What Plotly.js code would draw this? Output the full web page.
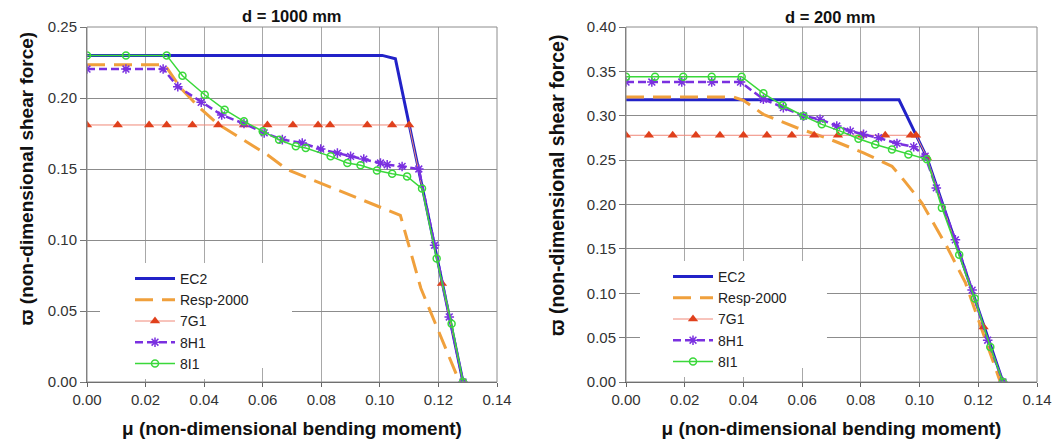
<!DOCTYPE html>
<html><head><meta charset="utf-8">
<script src="https://cdn.plot.ly/plotly-3.0.1.min.js"></script>
<style>html,body{margin:0;padding:0;background:#fff}#chart{width:1057px;height:446px}</style>
</head><body><div id="chart"></div>
<script>
// ---- tick labels ----
const xTickVals = [0, 0.02, 0.04, 0.06, 0.08, 0.10, 0.12, 0.14];
const xTickText = ["0.00","0.02","0.04","0.06","0.08","0.10","0.12","0.14"];
const yTickValsL = [0, 0.05, 0.10, 0.15, 0.20, 0.25];
const yTickTextL = ["0.00","0.05","0.10","0.15","0.20","0.25"];
const yTickValsR = [0, 0.05, 0.10, 0.15, 0.20, 0.25, 0.30, 0.35, 0.40];
const yTickTextR = ["0.00","0.05","0.10","0.15","0.20","0.25","0.30","0.35","0.40"];
const seriesNames = ["EC2", "Resp-2000", "7G1", "8H1", "8I1"];

// ---- d = 1000 mm (left panel) ----
const L_EC2_x  = [0, 0.1008, 0.1053, 0.1284];
const L_EC2_y  = [0.23, 0.23, 0.2277, 0];
const L_RESP_x = [0, 0.0265, 0.032, 0.038, 0.0445, 0.053, 0.0616, 0.0684, 0.0855, 0.107, 0.114, 0.1272];
const L_RESP_y = [0.2235, 0.2235, 0.207, 0.194, 0.182, 0.171, 0.16, 0.1495, 0.1354, 0.1174, 0.066, 0];
const L_7G1_x  = [0, 0.0105, 0.0212, 0.0272, 0.036, 0.0448, 0.0536, 0.0616, 0.0703, 0.0789, 0.083, 0.0957, 0.1042, 0.110, 0.1212, 0.1284];
const L_7G1_y  = [0.181, 0.181, 0.181, 0.181, 0.181, 0.181, 0.181, 0.181, 0.181, 0.181, 0.181, 0.181, 0.181, 0.181, 0.0693, 0];
const L_8H1_x  = [0, 0.0133, 0.026, 0.031, 0.039, 0.046, 0.0536, 0.0605, 0.0667, 0.0735, 0.0798, 0.0855, 0.09, 0.0945, 0.1002, 0.1025, 0.1076, 0.1133, 0.1187, 0.1237, 0.1284];
const L_8H1_y  = [0.2204, 0.2204, 0.2204, 0.208, 0.197, 0.188, 0.182, 0.1754, 0.1707, 0.1683, 0.164, 0.1612, 0.1589, 0.157, 0.1542, 0.153, 0.1518, 0.150, 0.0963, 0.0458, 0];
const L_8I1_x  = [0, 0.0133, 0.0272, 0.0326, 0.0402, 0.047, 0.0536, 0.06, 0.0656, 0.0713, 0.0747, 0.0832, 0.0889, 0.0934, 0.099, 0.1042, 0.1093, 0.1144, 0.1194, 0.1245, 0.1284];
const L_8I1_y  = [0.23, 0.23, 0.23, 0.2157, 0.2023, 0.1918, 0.1836, 0.1765, 0.1706, 0.166, 0.1648, 0.1589, 0.1542, 0.1526, 0.149, 0.1467, 0.1448, 0.1362, 0.0869, 0.041, 0];

// ---- d = 200 mm (right panel) ----
const R_EC2_x  = [0, 0.093, 0.1025, 0.1284];
const R_EC2_y  = [0.318, 0.318, 0.253, 0];
const R_RESP_x = [0, 0.0366, 0.04, 0.0468, 0.0582, 0.0696, 0.0809, 0.0866, 0.0906, 0.0945, 0.1008, 0.1093, 0.1156, 0.1275];
const R_RESP_y = [0.321, 0.321, 0.3174, 0.3016, 0.2865, 0.2733, 0.2582, 0.249, 0.243, 0.228, 0.2017, 0.1526, 0.112, 0];
const R_7G1_x  = [0, 0.0078, 0.0159, 0.0238, 0.032, 0.04, 0.048, 0.0565, 0.0641, 0.0722, 0.0804, 0.0883, 0.097, 0.0988, 0.1025, 0.1218, 0.1284];
const R_7G1_y  = [0.278, 0.278, 0.278, 0.278, 0.278, 0.278, 0.278, 0.278, 0.278, 0.278, 0.278, 0.278, 0.278, 0.278, 0.253, 0.062, 0];
const R_8H1_x  = [0, 0.0088, 0.019, 0.0292, 0.039, 0.0468, 0.0536, 0.0605, 0.0661, 0.0718, 0.0764, 0.0809, 0.086, 0.0923, 0.098, 0.1019, 0.1057, 0.1122, 0.1179, 0.1232, 0.1284];
const R_8H1_y  = [0.338, 0.338, 0.338, 0.338, 0.338, 0.3186, 0.3091, 0.2997, 0.2959, 0.2884, 0.2827, 0.279, 0.2752, 0.2688, 0.265, 0.2544, 0.2187, 0.1602, 0.1036, 0.0471, 0];
const R_8I1_x  = [0, 0.0099, 0.0195, 0.0292, 0.0394, 0.0468, 0.0533, 0.0605, 0.0667, 0.073, 0.0792, 0.0849, 0.0906, 0.0962, 0.1025, 0.1076, 0.1135, 0.1188, 0.1241, 0.1284];
const R_8I1_y  = [0.344, 0.344, 0.344, 0.344, 0.344, 0.3253, 0.3118, 0.2997, 0.2903, 0.2827, 0.2741, 0.2676, 0.262, 0.2563, 0.2509, 0.1962, 0.1433, 0.0942, 0.0395, 0];

// ---- styles ----
const styles = [
  {mode:'lines', line:{color:'#2222c8', width:3}},
  {mode:'lines', line:{color:'#f0a03c', width:3, dash:'18px,9px'}},
  {mode:'lines+markers', line:{color:'#f08878', width:1}, marker:{symbol:'triangle-up', size:9, color:'#e0401c'}},
  {mode:'lines+markers', line:{color:'#7a30e0', width:2.5, dash:'8px,4px'}, marker:{symbol:'asterisk-open', size:8, line:{color:'#7a30e0', width:1.5}}},
  {mode:'lines+markers', line:{color:'#3ad83a', width:1.5}, marker:{symbol:'circle-open', size:7, line:{color:'#3ad83a', width:1.5}}}
];
const leftData  = [[L_EC2_x,L_EC2_y],[L_RESP_x,L_RESP_y],[L_7G1_x,L_7G1_y],[L_8H1_x,L_8H1_y],[L_8I1_x,L_8I1_y]];
const rightData = [[R_EC2_x,R_EC2_y],[R_RESP_x,R_RESP_y],[R_7G1_x,R_7G1_y],[R_8H1_x,R_8H1_y],[R_8I1_x,R_8I1_y]];

const traces = [];
leftData.forEach((d,i)=>{
  traces.push(Object.assign({type:'scatter', x:d[0], y:d[1], name:seriesNames[i], xaxis:'x', yaxis:'y', legend:'legend'}, JSON.parse(JSON.stringify(styles[i]))));
});
rightData.forEach((d,i)=>{
  traces.push(Object.assign({type:'scatter', x:d[0], y:d[1], name:seriesNames[i], xaxis:'x2', yaxis:'y2', legend:'legend2'}, JSON.parse(JSON.stringify(styles[i]))));
});

const FONT = 'Liberation Sans, Arial, sans-serif';
function xAxis(domain, anchor){
  return {domain:domain, anchor:anchor, range:[0,0.14], tickmode:'array', tickvals:xTickVals, ticktext:xTickText,
    showgrid:true, gridcolor:'#a8a8a8', gridwidth:1, zeroline:false, showline:true, linecolor:'#555', linewidth:1,
    mirror:false, ticks:'outside', ticklen:4, tickcolor:'#666', tickfont:{family:FONT, size:15, color:'#333'}, automargin:false, fixedrange:true,
    title:{text:'μ (non-dimensional bending moment)', font:{family:FONT, size:19, color:'#111', weight:'bold'}, standoff:14}};
}
function yAxis(range, vals, text, anchor){
  return {domain:[0,1], anchor:anchor, range:range, tickmode:'array', tickvals:vals, ticktext:text,
    showgrid:true, gridcolor:'#8c8c8c', gridwidth:1, zeroline:false, showline:true, linecolor:'#777', linewidth:1,
    mirror:false, ticks:'outside', ticklen:6, tickcolor:'#777', tickfont:{family:FONT, size:15, color:'#333'}, automargin:false, fixedrange:true};
}

const W = 1057, H = 446, ML = 87, MR = 20, MT = 27, MB = 64;
const PW = W-ML-MR, PH = H-MT-MB;
const px = v => (v-ML)/PW, py = v => 1-(v-MT)/PH;

const legendCommon = {bgcolor:'#ffffff', borderwidth:0, font:{family:FONT, size:14, color:'#222'}, itemwidth:40, xanchor:'left', yanchor:'top', tracegroupgap:0};

const layout = {
  width:W, height:H, margin:{l:ML, r:MR, t:MT, b:MB, pad:0},
  paper_bgcolor:'#fff', plot_bgcolor:'#fff', showlegend:true,
  xaxis: xAxis([0, 410/PW], 'y'),
  yaxis: yAxis([0,0.25], yTickValsL, yTickTextL, 'x'),
  xaxis2: xAxis([px(626), 1], 'y2'),
  yaxis2: yAxis([0,0.40], yTickValsR, yTickTextR, 'x2'),
  legend: Object.assign({x:px(130), y:py(263)}, legendCommon),
  legend2: Object.assign({x:px(668), y:py(261)}, legendCommon),
  annotations: [
    {text:'d = 1000 mm', xref:'paper', yref:'paper', x:px(292), y:py(15.5), xanchor:'center', yanchor:'middle', showarrow:false, font:{family:FONT, size:16.5, color:'#111', weight:'bold'}},
    {text:'d = 200 mm', xref:'paper', yref:'paper', x:px(830), y:py(16.5), xanchor:'center', yanchor:'middle', showarrow:false, font:{family:FONT, size:16.5, color:'#111', weight:'bold'}},
    {text:'ϖ (non-dimensional shear force)', xref:'paper', yref:'paper', x:px(25.5), y:py(179), xanchor:'center', yanchor:'middle', textangle:-90, showarrow:false, font:{family:FONT, size:19, color:'#111', weight:'bold'}},
    {text:'ϖ (non-dimensional shear force)', xref:'paper', yref:'paper', x:px(557), y:py(186), xanchor:'center', yanchor:'middle', textangle:-90, showarrow:false, font:{family:FONT, size:19.5, color:'#111', weight:'bold'}}
  ],
  shapes: [
    {type:'rect', xref:'x domain', yref:'y domain', x0:0.0317, x1:0.5, y0:0.0394, y1:0.3352, fillcolor:'#ffffff', line:{width:0}, layer:'above'},
    {type:'rect', xref:'x2 domain', yref:'y2 domain', x0:0.034, x1:0.489, y0:0.0394, y1:0.3408, fillcolor:'#ffffff', line:{width:0}, layer:'above'},
    {type:'rect', xref:'x domain', yref:'y domain', x0:0, x1:1, y0:0, y1:1, line:{color:'#8c8c8c', width:1}, layer:'above'},
    {type:'rect', xref:'x2 domain', yref:'y2 domain', x0:0, x1:1, y0:0, y1:1, line:{color:'#8c8c8c', width:1}, layer:'above'}
  ]
};

Plotly.newPlot('chart', traces, layout, {staticPlot:true, displayModeBar:false});
</script>
</body></html>
